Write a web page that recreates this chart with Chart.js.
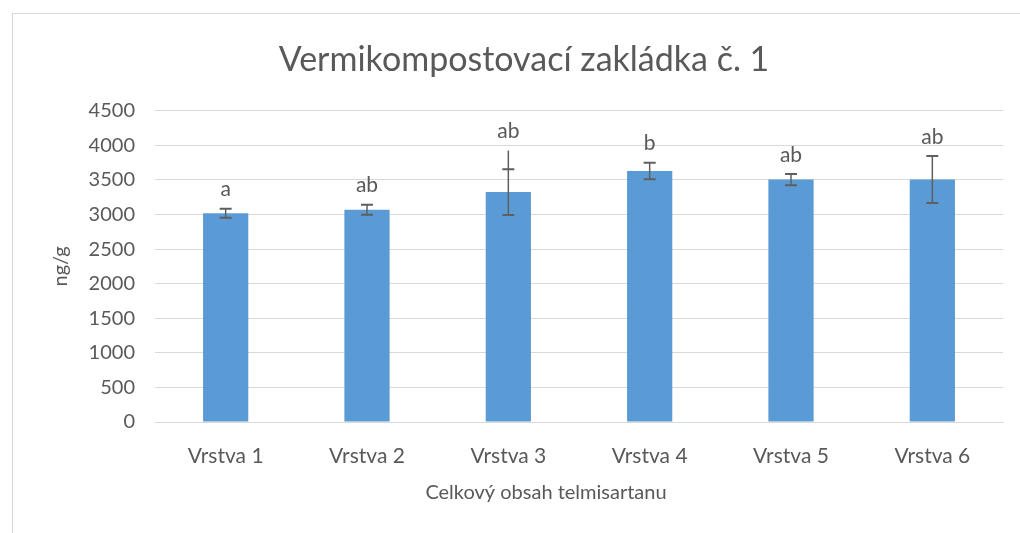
<!DOCTYPE html>
<html>
<head>
<meta charset="utf-8">
<script src="https://cdn.jsdelivr.net/npm/chart.js@4"></script>
<style>
  body { margin: 0; background: #fff; }
  #wrap { position: relative; width: 1020px; height: 533px; overflow: hidden; }
  #frame { position: absolute; left: 12px; top: 13px; width: 1100px; height: 600px; border: 1px solid #d9d9d9; }
  canvas { position: absolute; left: 0; top: 0; }
</style>
</head>
<body>
<div id="wrap">
  <div id="frame"></div>
  <canvas id="chart" width="1020" height="533"></canvas>
</div>
<script>
// data z grafu (odhad z obrázku)
const labels = ["Vrstva 1", "Vrstva 2", "Vrstva 3", "Vrstva 4", "Vrstva 5", "Vrstva 6"];
const means = [3020, 3070, 3325, 3630, 3505, 3505];
const errors = [65, 72, 330, 120, 80, 340];
// u Vrstvy 3 vede chybová úsečka výš než horní zarážka
const whiskerTop = [null, null, 3925, null, null, null];
const letters = ["a", "ab", "ab", "b", "ab", "ab"];
const xTitle = "Celkový obsah telmisartanu";

const textColor = "#595959";
const font = "Lato, 'Open Sans', sans-serif";

// chybové úsečky + písmena
const errorBars = {
  id: "errorBars",
  afterDatasetsDraw(chart) {
    const { ctx, scales: { x, y } } = chart;
    ctx.save();
    means.forEach((m, i) => {
      const cx = x.getPixelForValue(i);
      const hi = y.getPixelForValue(m + errors[i]);
      const lo = y.getPixelForValue(m - errors[i]);
      const top = whiskerTop[i] != null ? y.getPixelForValue(whiskerTop[i]) : hi;
      ctx.strokeStyle = "#5f5f5f";
      ctx.lineWidth = 1.5;
      ctx.beginPath();
      ctx.moveTo(cx, top);
      ctx.lineTo(cx, lo);
      ctx.stroke();
      ctx.lineWidth = 2;
      ctx.beginPath();
      ctx.moveTo(cx - 6, hi); ctx.lineTo(cx + 6, hi);
      ctx.moveTo(cx - 6, lo); ctx.lineTo(cx + 6, lo);
      ctx.stroke();

      ctx.fillStyle = textColor;
      ctx.font = "21px " + font;
      ctx.textAlign = "center";
      ctx.textBaseline = "middle";
      ctx.fillText(letters[i], cx, top - 19);
    });

    // název osy x - v originále je posunutý doleva od středu
    ctx.font = "20px " + font;
    ctx.fillText(xTitle, 546, 493);
    ctx.restore();
  }
};

new Chart(document.getElementById("chart"), {
  type: "bar",
  data: {
    labels: labels,
    datasets: [{
      data: means,
      backgroundColor: "#5b9bd5",
      barPercentage: 0.32,
      categoryPercentage: 1
    }]
  },
  options: {
    responsive: false,
    animation: false,
    layout: { padding: { left: 45, right: 17, top: 0, bottom: 25 } },
    plugins: {
      legend: { display: false },
      tooltip: { enabled: false },
      title: {
        display: true,
        text: "Vermikompostovací zakládka č. 1",
        color: textColor,
        font: { family: font, size: 34, weight: "normal" },
        padding: { top: 40, bottom: 30 }
      }
    },
    scales: {
      x: {
        grid: { display: false },
        border: { color: "#d9d9d9" },
        ticks: { color: textColor, font: { family: font, size: 21 }, padding: 14 },
        afterFit(scale) { scale.height = 86; }
      },
      y: {
        min: 0,
        max: 4500,
        ticks: {
          stepSize: 500,
          color: textColor,
          font: { family: font, size: 20 },
          padding: 20,
          callback: v => String(v)
        },
        grid: { color: "#d9d9d9", drawTicks: false },
        border: { display: false },
        title: {
          display: true,
          text: "ng/g",
          color: textColor,
          font: { family: font, size: 20 }
        },
        afterFit(scale) { scale.width = 110; }
      }
    }
  },
  plugins: [errorBars]
});
</script>
</body>
</html>
